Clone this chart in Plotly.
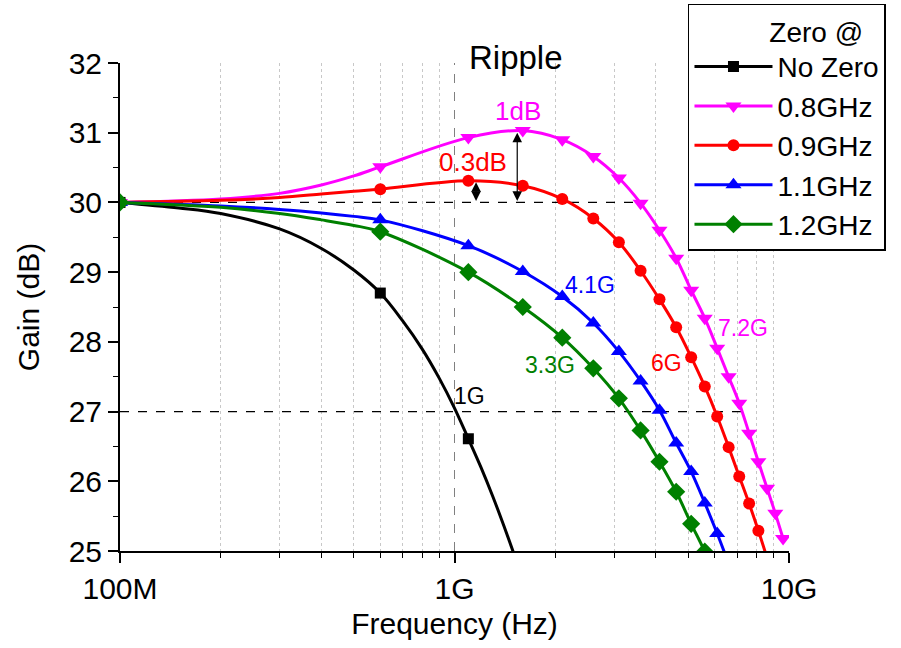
import math
import plotly.graph_objects as go

# ---------------- data (frequencies in GHz, gain in dB) ----------------
mark_f = [0.1, 0.6, 1.1, 1.6, 2.1, 2.6, 3.1, 3.6, 4.1, 4.6,
          5.1, 5.6, 6.1, 6.6, 7.1, 7.6, 8.1, 8.6, 9.1, 9.6]

series_names = ["No Zero", "0.8GHz", "0.9GHz", "1.1GHz", "1.2GHz"]
series_colors = ["#000000", "#FF00FF", "#FF0000", "#0000FF", "#008000"]
series_symbols = ["square", "triangle-down", "circle", "triangle-up", "diamond"]
series_sizes = [11, 14, 12, 14, 14]

# gain at marker frequencies
nozero_mark = [30.0, 28.70, 26.61]
z08_mark = [30.0, 30.51, 30.93, 31.03, 30.90, 30.66, 30.35, 29.99, 29.60, 29.20,
            28.74, 28.34, 27.91, 27.50, 27.12, 26.69, 26.28, 25.90, 25.54, 25.18]
z09_mark = [30.0, 30.19, 30.31, 30.24, 30.05, 29.77, 29.43, 29.02, 28.61, 28.21,
            27.78, 27.36, 26.93, 26.49, 26.07, 25.68, 25.29, 24.90]
z11_mark = [30.0, 29.75, 29.38, 29.01, 28.65, 28.27, 27.86, 27.44, 27.02, 26.55,
            26.14, 25.69, 25.25, 24.82]
z12_mark = [30.0, 29.58, 29.00, 28.50, 28.06, 27.62, 27.19, 26.73, 26.28, 25.85,
            25.39, 24.99, 24.55]

# additional points (between markers)
nozero_extra_f = [0.15, 0.2, 0.3, 0.4, 0.5, 0.7, 0.8, 0.9, 1.0, 1.2, 1.3, 1.4, 1.5]
nozero_extra_g = [29.92, 29.84, 29.62, 29.34, 29.03, 28.30, 27.90, 27.48, 27.05,
                  26.20, 25.79, 25.38, 24.98]
z08_extra_f = [0.2, 0.3, 0.4, 0.5]
z08_extra_g = [30.05, 30.13, 30.25, 30.38]
z09_extra_f = [0.2, 0.3, 0.4, 0.5]
z09_extra_g = [30.03, 30.07, 30.12, 30.16]
z11_extra_f = [0.2, 0.3, 0.4, 0.5]
z11_extra_g = [29.95, 29.90, 29.85, 29.80]
z12_extra_f = [0.2, 0.3, 0.4, 0.5]
z12_extra_g = [29.93, 29.84, 29.75, 29.67]

marks = [nozero_mark, z08_mark, z09_mark, z11_mark, z12_mark]
extras = [(nozero_extra_f, nozero_extra_g), (z08_extra_f, z08_extra_g),
          (z09_extra_f, z09_extra_g), (z11_extra_f, z11_extra_g),
          (z12_extra_f, z12_extra_g)]

# reference lines
ref30_f = [0.1, 3.6]
ref27_f = [0.1, 7.2]
ref_1g_f = 1.0

# ripple arrows (freq GHz, bottom, top)
arrow_1db = (1.54, 30.0, 31.0)
arrow_03db = (1.16, 30.0, 30.29)

# text labels (text, freq GHz, gain, color, size)
labels = [
    ("1dB", 1.55, 31.31, "#FF00FF", 26),
    ("0.3dB", 1.136, 30.58, "#FF0000", 26),
    ("4.1G", 2.54, 28.81, "#0000FF", 23),
    ("7.2G", 7.29, 28.20, "#FF00FF", 23),
    ("6G", 4.31, 27.70, "#FF0000", 23),
    ("3.3G", 1.93, 27.67, "#008000", 23),
    ("1G", 1.105, 27.22, "#000000", 23),
]

FONT = "Liberation Sans, Arial, sans-serif"
G = 1e9

fig = go.Figure()

# reference dashed lines
fig.add_trace(go.Scatter(x=[ref_1g_f * G, ref_1g_f * G], y=[25, 32], mode="lines",
                         line=dict(color="#808080", width=1, dash="dash"),
                         showlegend=False, hoverinfo="skip"))
fig.add_trace(go.Scatter(x=[f * G for f in ref30_f], y=[30, 30], mode="lines",
                         line=dict(color="#000000", width=1.2, dash="dash"),
                         showlegend=False, hoverinfo="skip"))
fig.add_trace(go.Scatter(x=[f * G for f in ref27_f], y=[27, 27], mode="lines",
                         line=dict(color="#000000", width=1.2, dash="dash"),
                         showlegend=False, hoverinfo="skip"))

for name, color, sym, size, mk, (ef, eg) in zip(series_names, series_colors,
                                               series_symbols, series_sizes,
                                               marks, extras):
    mf = mark_f[:len(mk)]
    pts = sorted(list(zip(mf, mk)) + list(zip(ef, eg)))
    lf = [p[0] * G for p in pts]
    lg = [p[1] for p in pts]
    fig.add_trace(go.Scatter(x=lf, y=lg, mode="lines",
                             line=dict(color=color, width=3, shape="spline", smoothing=1.0),
                             showlegend=False, hoverinfo="skip"))
    fig.add_trace(go.Scatter(x=[f * G for f in mf], y=mk, mode="markers",
                             marker=dict(symbol=sym, size=size, color=color,
                                         line=dict(width=0)),
                             showlegend=False, name=name))
    fig.add_trace(go.Scatter(x=[None], y=[None], mode="lines+markers", name=name,
                             line=dict(color=color, width=3),
                             marker=dict(symbol=sym, size=size, color=color)))

annotations = []
for (f, y0, y1) in [arrow_1db, arrow_03db]:
    lx = math.log10(f * G)
    annotations.append(dict(x=lx, y=y1, ax=lx, ay=y0, xref="x", yref="y",
                            axref="x", ayref="y", text="", showarrow=True,
                            arrowhead=2, arrowside="end+start", arrowsize=1.6,
                            arrowwidth=1.2, arrowcolor="#000000"))
for (t, f, g, c, s) in labels:
    annotations.append(dict(x=math.log10(f * G), y=g, xref="x", yref="y", text=t,
                            showarrow=False, font=dict(family=FONT, size=s, color=c),
                            xanchor="center", yanchor="middle"))
annotations.append(dict(x=0.592, y=1.012, xref="paper", yref="paper", text="Ripple",
                        showarrow=False, font=dict(family=FONT, size=33, color="#000000"),
                        xanchor="center", yanchor="middle"))

fig.update_layout(
    width=901, height=648, autosize=False,
    margin=dict(l=120, r=112, t=63, b=97, autoexpand=False),
    paper_bgcolor="white", plot_bgcolor="white",
    font=dict(family=FONT, color="#000000"),
    annotations=annotations,
    legend=dict(x=0.849, y=1.121, xanchor="left", yanchor="top",
                bordercolor="#000000", borderwidth=1.5, bgcolor="white",
                font=dict(family=FONT, size=28, color="#000000"),
                title=dict(text="          Zero @", font=dict(family=FONT, size=28)),
                itemwidth=78, tracegroupgap=0),
    showlegend=True,
)

fig.update_xaxes(type="log", range=[8, 10], tickmode="linear", tick0=8, dtick=1,
                 exponentformat="SI", automargin=False,
                 showline=True, linecolor="#000000", linewidth=2,
                 ticks="outside", ticklen=10, tickwidth=1.5, tickcolor="#000000",
                 tickfont=dict(family=FONT, size=30, color="#000000"),
                 showgrid=False, zeroline=False,
                 minor=dict(dtick="D1", ticks="outside", ticklen=5, tickwidth=1.2,
                            tickcolor="#000000", showgrid=True, gridcolor="#c8c8c8",
                            griddash="dot", gridwidth=1),
                 title=dict(text="Frequency (Hz)", standoff=9,
                            font=dict(family=FONT, size=30, color="#000000")))
fig.update_yaxes(range=[25, 32], dtick=1, tick0=25, automargin=False,
                 showline=True, linecolor="#000000", linewidth=2,
                 ticks="outside", ticklen=10, tickwidth=1.5, tickcolor="#000000",
                 tickfont=dict(family=FONT, size=30, color="#000000"),
                 showgrid=False, zeroline=False,
                 minor=dict(dtick=0.5, ticks="outside", ticklen=5, tickwidth=1.2,
                            tickcolor="#000000", showgrid=False),
                 title=dict(text="Gain (dB)", standoff=20,
                            font=dict(family=FONT, size=30, color="#000000")))

fig.write_html("out.html",
               config={"displayModeBar": False},
               post_script="document.body.style.margin='0';"
                           "document.body.style.overflow='hidden';")
